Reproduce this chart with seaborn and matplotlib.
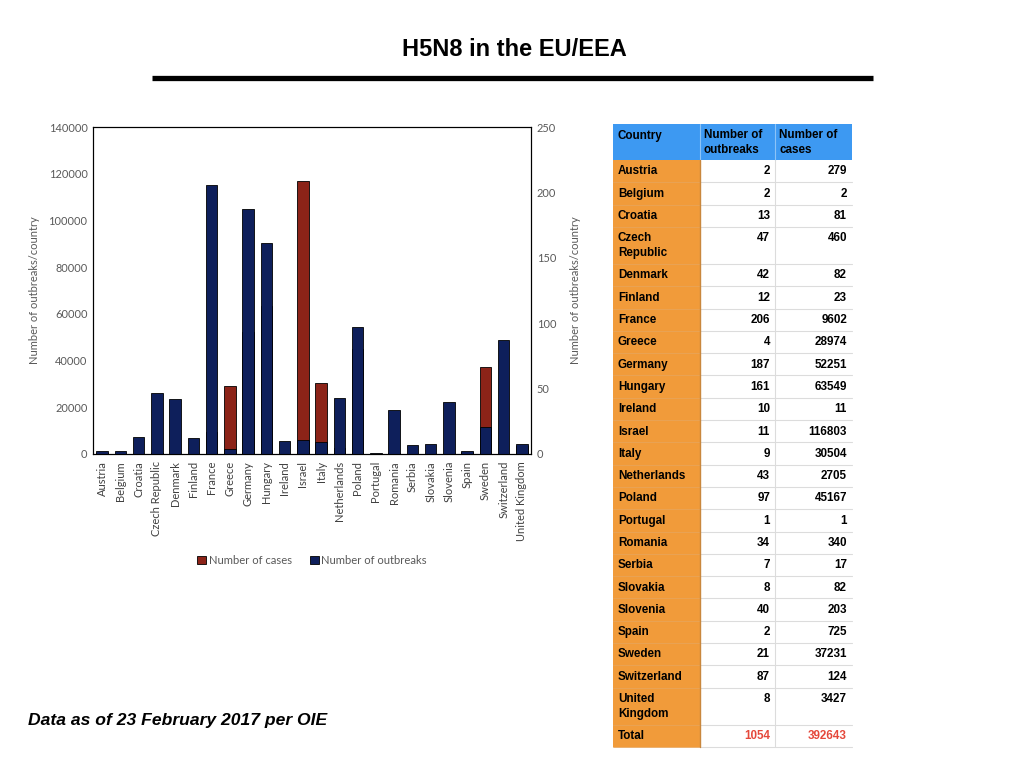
import matplotlib
matplotlib.use("Agg")
import matplotlib.pyplot as plt
import seaborn as sns
import pandas as pd
from matplotlib.patches import Rectangle, Patch

sns.set_theme(style="white")
plt.rcParams['font.family'] = ['Lato', 'DejaVu Sans']
plt.rcParams['text.color'] = 'black'

countries = ["Austria", "Belgium", "Croatia", "Czech Republic", "Denmark", "Finland",
             "France", "Greece", "Germany", "Hungary", "Ireland", "Israel", "Italy",
             "Netherlands", "Poland", "Portugal", "Romania", "Serbia", "Slovakia",
             "Slovenia", "Spain", "Sweden", "Switzerland", "United Kingdom"]
outbreaks = [2, 2, 13, 47, 42, 12, 206, 4, 187, 161, 10, 11, 9, 43, 97, 1, 34, 7, 8,
             40, 2, 21, 87, 8]
cases = [279, 2, 81, 460, 82, 23, 9602, 28974, 52251, 63549, 11, 116803, 30504, 2705,
         45167, 1, 340, 17, 82, 203, 725, 37231, 124, 3427]
total_outbreaks = 1054
total_cases = 392643

left_ticks = [0, 20000, 40000, 60000, 80000, 100000, 120000, 140000]
right_ticks = [0, 50, 100, 150, 200, 250]

df = pd.DataFrame({"country": countries, "outbreaks": outbreaks, "cases": cases})

RED = "#8c2318"
BLUE = "#0e1f5b"
GREY = "#595959"

fig = plt.figure(figsize=(10.24, 7.68), dpi=100)

# background layer in pixel coordinates for title, rule, footer and table
bg = fig.add_axes([0, 0, 1, 1])
bg.set_xlim(0, 1024)
bg.set_ylim(768, 0)
bg.axis("off")

bg.text(514, 50, "H5N8 in the EU/EEA", ha="center", va="center", fontsize=17,
        fontweight="bold", family="Liberation Sans", color="black")
bg.plot([152, 873], [78, 78], color="black", lw=3.8, solid_capstyle="butt")
bg.text(28, 720, "Data as of 23 February 2017 per OIE", ha="left", va="center",
        fontsize=12.6, fontweight="bold", style="italic", family="Liberation Sans",
        color="black")

# table
col_x = [613, 700, 775, 852]
header_top, header_h = 124, 36
single_h, double_h = 22.3, 37
tfont = dict(family="Liberation Sans", fontweight="bold", fontsize=8.4)
pad_top = 5.5

bg.add_patch(Rectangle((col_x[0], header_top), col_x[3] - col_x[0], header_h,
                       facecolor="#3d99f2", edgecolor="none"))
bg.plot([col_x[1], col_x[1]], [header_top, header_top + header_h], color="#8cc3f7", lw=0.8)
bg.plot([col_x[2], col_x[2]], [header_top, header_top + header_h], color="#8cc3f7", lw=0.8)
bg.text(col_x[0] + 5, header_top + pad_top, "Country", ha="left", va="top", **tfont)
bg.text(col_x[1] + 4, header_top + pad_top, "Number of\noutbreaks", ha="left", va="top",
        linespacing=1.3, **tfont)
bg.text(col_x[2] + 4, header_top + pad_top, "Number of\ncases", ha="left", va="top",
        linespacing=1.3, **tfont)

rows = [(c.replace(" ", "\n") if c in ("Czech Republic", "United Kingdom") else c,
         str(o), str(k), "black") for c, o, k in zip(countries, outbreaks, cases)]
rows.append(("Total", str(total_outbreaks), str(total_cases), "#e5483b"))

y = header_top + header_h
for name, o, k, col in rows:
    h = double_h if "\n" in name else single_h
    bg.add_patch(Rectangle((col_x[0], y), col_x[1] - col_x[0], h,
                           facecolor="#f19b3a", edgecolor="none"))
    bg.add_patch(Rectangle((col_x[1], y), col_x[3] - col_x[1], h,
                           facecolor="white", edgecolor="none"))
    bg.plot([col_x[1], col_x[3]], [y + h, y + h], color="#dcdcdc", lw=0.8)
    bg.plot([col_x[0], col_x[1]], [y + h, y + h], color="#e8a458", lw=0.6)
    bg.plot([col_x[2], col_x[2]], [y, y + h], color="#dcdcdc", lw=0.8)
    bg.text(col_x[0] + 5, y + pad_top, name, ha="left", va="top", linespacing=1.3, **tfont)
    bg.text(col_x[2] - 5, y + pad_top, o, ha="right", va="top", color=col, **tfont)
    bg.text(col_x[3] - 5, y + pad_top, k, ha="right", va="top", color=col, **tfont)
    y += h
bg.plot([col_x[1], col_x[1]], [header_top + header_h, y], color="#c9873d", lw=1.0)

# chart
ax = fig.add_axes([93 / 1024, 1 - 454 / 768, 438 / 1024, 327 / 768])
sns.barplot(data=df, x="country", y="cases", color=RED, saturation=1, width=0.62,
            edgecolor="black", linewidth=0.6, ax=ax)
ax.set_ylim(0, 140000)
ax.set_yticks(left_ticks)
ax.set_xlim(-0.5, len(countries) - 0.5)

ax2 = ax.twinx()
sns.barplot(data=df, x="country", y="outbreaks", color=BLUE, saturation=1, width=0.62,
            edgecolor="black", linewidth=0.6, ax=ax2)
ax2.set_ylim(0, 250)
ax2.set_yticks(right_ticks)
ax2.set_xlim(-0.5, len(countries) - 0.5)

for a in (ax, ax2):
    a.set_xlabel("")
    a.set_ylabel("Number of outbreaks/country", fontsize=8, color=GREY)
    a.tick_params(axis="both", length=0, labelsize=7.9, labelcolor=GREY, pad=4)
    for s in a.spines.values():
        s.set_visible(True)
        s.set_color("black")
        s.set_linewidth(0.8)
ax.yaxis.labelpad = 6
ax2.yaxis.labelpad = 10
ax.tick_params(axis="x", labelrotation=90, pad=5)
ax.set_xticks(range(len(countries)))
ax.set_xticklabels(countries, fontsize=8, color="#404040")

handles = [Patch(facecolor=RED, edgecolor="black", linewidth=0.6, label="Number of cases"),
           Patch(facecolor=BLUE, edgecolor="black", linewidth=0.6, label="Number of outbreaks")]
leg = ax2.legend(handles=handles, loc="center", bbox_to_anchor=(0.5, -0.325), ncol=2,
                 frameon=False, fontsize=8.1, handlelength=0.8, handleheight=0.8,
                 handletextpad=0.2, columnspacing=1.6)
for t in leg.get_texts():
    t.set_color(GREY)

fig.savefig("out.png", dpi=100)
